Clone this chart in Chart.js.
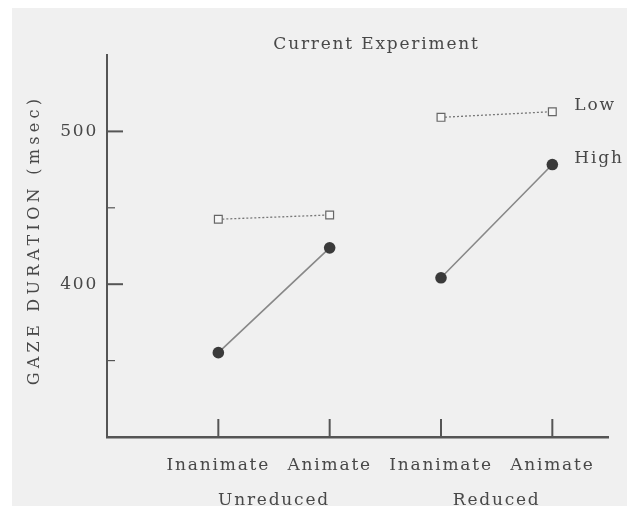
<!DOCTYPE html>
<html>
<head>
<meta charset="utf-8">
<script src="https://cdn.jsdelivr.net/npm/chart.js@4"></script>
<style>
  html, body { margin: 0; padding: 0; background: #fff; overflow: hidden; }
  #wrap { width: 627px; height: 506px; }
</style>
</head>
<body>
<div id="wrap"><canvas id="c" width="627" height="506"></canvas></div>
<script>
// ---- data ----
const categories = ['Inanimate', 'Animate', 'Inanimate', 'Animate'];
const groups = ['Unreduced', 'Reduced'];
const seriesNames = ['Low', 'High'];
const lowValues = [442.5, 445.3, 509.2, 512.9];
const highValues = [355.2, 423.8, 404.2, 478.3];
const yTickLabels = [400, 500];
const yMinorTicks = [350, 450];
const chartTitle = 'Current Experiment';
const yTitle = 'GAZE DURATION (msec)';

// ---- styling ----
const FONT = 'DejaVu Serif';
const TEXT = '#484848';
const AXIS = '#555';
const SPACING = '1.8px';
const perGroup = categories.length / groups.length;

// category i sits at x = i + 1; a null point between groups breaks the line
function toPoints(values) {
  const pts = [];
  values.forEach((v, i) => {
    if (i > 0 && i % perGroup === 0) pts.push({ x: i + 0.5, y: null });
    pts.push({ x: i + 1, y: v });
  });
  return pts;
}

const bgPlugin = {
  id: 'bg',
  beforeUpdate(chart) { chart.ctx.letterSpacing = SPACING; },
  beforeDraw(chart) {
    const ctx = chart.ctx;
    ctx.save();
    ctx.fillStyle = '#ffffff';
    ctx.fillRect(0, 0, chart.width, chart.height);
    ctx.fillStyle = '#f0f0f0';
    ctx.fillRect(12, 8, chart.width - 12, chart.height - 8);
    ctx.restore();
    ctx.letterSpacing = SPACING;
  }
};

const decorPlugin = {
  id: 'decor',
  afterDraw(chart) {
    const ctx = chart.ctx;
    const area = chart.chartArea;
    const xs = chart.scales.x, ys = chart.scales.y;
    ctx.save();
    ctx.strokeStyle = AXIS;
    ctx.lineCap = 'butt';
    // inward y ticks
    ctx.lineWidth = 2;
    yTickLabels.forEach(v => {
      const p = ys.getPixelForValue(v);
      ctx.beginPath(); ctx.moveTo(area.left, p); ctx.lineTo(area.left + 16, p); ctx.stroke();
    });
    ctx.lineWidth = 1.2;
    yMinorTicks.forEach(v => {
      const p = ys.getPixelForValue(v);
      ctx.beginPath(); ctx.moveTo(area.left, p); ctx.lineTo(area.left + 8, p); ctx.stroke();
    });
    // upward x ticks
    ctx.lineWidth = 2;
    categories.forEach((c, i) => {
      const p = xs.getPixelForValue(i + 1);
      ctx.beginPath(); ctx.moveTo(p, area.bottom); ctx.lineTo(p, area.bottom - 18); ctx.stroke();
    });

    ctx.fillStyle = TEXT;
    // chart title
    ctx.letterSpacing = SPACING;
    ctx.font = '17px "' + FONT + '"';
    ctx.textAlign = 'center';
    ctx.textBaseline = 'middle';
    ctx.fillText(chartTitle, (area.left + area.right) / 2 + 19, 45);

    // series labels beside last point
    ctx.textAlign = 'left';
    chart.data.datasets.forEach((ds, i) => {
      const meta = chart.getDatasetMeta(i);
      const last = meta.data[meta.data.length - 1];
      ctx.fillText(ds.label, last.x + 22, last.y - 6);
    });

    // y axis title
    ctx.save();
    ctx.letterSpacing = '4.3px';
    ctx.font = '16px "' + FONT + '"';
    ctx.translate(35, (area.top + area.bottom) / 2 - 6);
    ctx.rotate(-Math.PI / 2);
    ctx.textAlign = 'center';
    ctx.textBaseline = 'middle';
    ctx.fillText(yTitle, 0, 0);
    ctx.restore();

    ctx.restore();
  }
};

const tickFont = { family: FONT, size: 17 };

new Chart(document.getElementById('c'), {
  type: 'line',
  data: {
    datasets: [
      {
        label: seriesNames[0],
        data: toPoints(lowValues),
        borderColor: '#777',
        borderWidth: 1.3,
        borderDash: [2, 2],
        pointStyle: 'rect',
        pointRadius: 5.5,
        pointBackgroundColor: '#f6f6f6',
        pointBorderColor: '#666',
        pointBorderWidth: 1.2,
        spanGaps: false
      },
      {
        label: seriesNames[1],
        data: toPoints(highValues),
        borderColor: '#888',
        borderWidth: 1.6,
        pointStyle: 'circle',
        pointRadius: 5.8,
        pointBackgroundColor: '#3a3a3a',
        pointBorderColor: '#3a3a3a',
        pointBorderWidth: 0,
        spanGaps: false
      }
    ]
  },
  options: {
    responsive: false,
    animation: false,
    layout: { padding: { top: 55, right: 19, left: 0, bottom: 0 } },
    plugins: {
      legend: { display: false },
      tooltip: { enabled: false },
      title: { display: false }
    },
    scales: {
      x: {
        type: 'linear', position: 'bottom', min: 0, max: 4.5, weight: 0,
        grid: { display: false, drawTicks: false },
        border: { display: true, color: AXIS, width: 2.5 },
        afterBuildTicks: s => { s.ticks = categories.map((c, i) => ({ value: i + 1 })); },
        ticks: {
          padding: 18, color: TEXT, font: tickFont, maxRotation: 0, autoSkip: false,
          callback: (v, i) => categories[i]
        },
        afterFit: s => { s.height = 38; }
      },
      x2: {
        type: 'linear', position: 'bottom', min: 0, max: 4.5, weight: 1,
        grid: { display: false, drawTicks: false },
        border: { display: false },
        afterBuildTicks: s => { s.ticks = groups.map((g, i) => ({ value: i * perGroup + (perGroup + 1) / 2 })); },
        ticks: {
          padding: 15, color: TEXT, font: tickFont, maxRotation: 0, autoSkip: false,
          callback: (v, i) => groups[i]
        },
        afterFit: s => { s.height = 31; }
      },
      y: {
        type: 'linear', position: 'left', min: 300, max: 550,
        grid: { display: false, drawTicks: false },
        border: { display: true, color: AXIS, width: 2 },
        afterBuildTicks: s => { s.ticks = yTickLabels.map(v => ({ value: v })); },
        ticks: { padding: 9, color: TEXT, font: tickFont, callback: v => String(v) },
        afterFit: s => { s.width = 107; }
      }
    }
  },
  plugins: [bgPlugin, decorPlugin]
});
</script>
</body>
</html>
